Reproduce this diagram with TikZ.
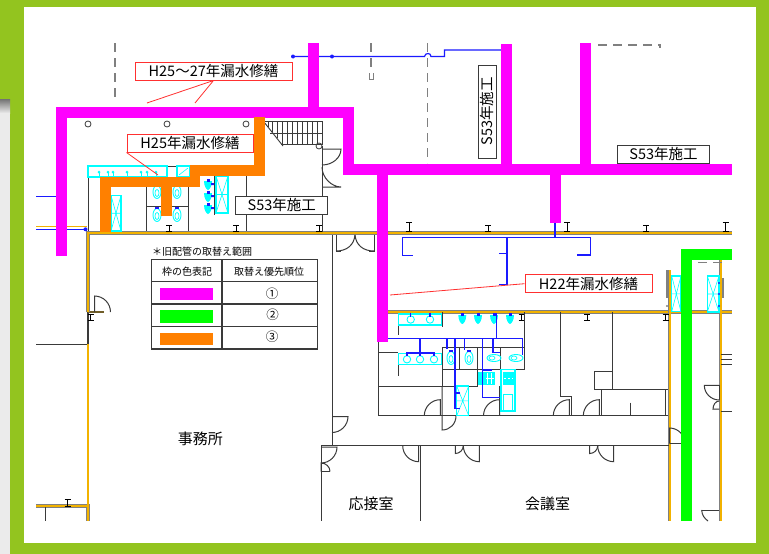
\documentclass[tikz,border=0pt]{standalone}
\usepackage{fontspec}
\setmainfont{Noto Sans CJK JP}
\usetikzlibrary{calc,shapes.geometric}
\definecolor{frameg}{HTML}{93C41F}
\definecolor{mag}{HTML}{FF00FF}
\definecolor{grn}{HTML}{00FF00}
\definecolor{org}{HTML}{FF8000}
\definecolor{wallo}{HTML}{F2B200}
\definecolor{wallc}{HTML}{3A3A3A}
\definecolor{cy}{HTML}{00FFFF}
\definecolor{bl}{HTML}{1A1AFF}
\definecolor{gdash}{HTML}{808080}
\definecolor{lab}{HTML}{FF3030}
\tikzset{
 wall/.style={draw=wallc,line width=1pt},
 wbase/.style={draw=gdash,line width=3.6pt},
 wcore/.style={draw=wallo,line width=2pt},
 pipe/.style={draw=bl,line width=1.4pt},
 fix/.style={draw=cy,line width=1.3pt},
 mband/.style={draw=mag,line width=11pt},
 gband/.style={draw=grn,line width=11pt},
 oband/.style={draw=org,line width=10.5pt},
 gd/.style={draw=gdash,line width=1.4pt,dash pattern=on 9pt off 6pt},
 redl/.style={draw=lab,line width=.8pt},
 rlabel/.style={draw=lab,line width=1pt,fill=white,inner sep=0pt,align=center,font=\fontsize{14.5}{15}\selectfont},
 blabel/.style={draw=wallc,line width=.9pt,fill=white,inner sep=0pt,align=center,font=\fontsize{14.5}{15}\selectfont},
 txt/.style={inner sep=0pt,font=\fontsize{10}{11}\selectfont},
 room/.style={inner sep=0pt,font=\fontsize{15}{16}\selectfont},
}
\newcommand\door[3]{\draw[wall] (#1) -- (#2) .. controls ($(#2)+.55*(#3)-.55*(#1)$) and ($(#3)+.55*(#2)-.55*(#1)$) .. (#3);}
\newcommand\ibeam[3]{\draw[draw=black,line width=.9pt] (#1-3,#2)--(#1+3,#2) (#1,#2)--(#1,#3) (#1-3,#3)--(#1+3,#3);}
\newcommand\xbox[4]{\draw[fix,fill=white] (#1,#2) rectangle (#3,#4); \draw[draw=cy,line width=.6pt] (#1,#2)--(#3,#4) (#3,#2)--(#1,#4) (#1,{(#2+#4)/2})--(#3,{(#2+#4)/2});}
\newcommand\urinal[2]{\fill[cy] (#1-4,#2-3) -- (#1+4,#2-3) .. controls (#1+4,#2+3) and (#1+1,#2+6) .. (#1,#2+6) .. controls (#1-1,#2+6) and (#1-4,#2+3) .. (#1-4,#2-3) -- cycle; \fill[bl] (#1-1.5,#2-5) rectangle (#1+1.5,#2-2);}
\newcommand\bowlv[2]{\draw[fix,line width=.9pt] (#1,#2) ellipse[x radius=4,y radius=6.5]; \draw[fix,line width=.7pt] (#1,#2+1) ellipse[x radius=2,y radius=3.5]; \fill[bl] (#1-2,#2-8) rectangle (#1+2,#2-6);}
\newcommand\bowlh[2]{\draw[fix,line width=.9pt] (#1,#2) ellipse[x radius=7,y radius=3.5]; \draw[fix,line width=.7pt] (#1-2,#2) ellipse[x radius=3,y radius=2];}
\newcommand\sinkc[2]{\draw[fix,line width=.9pt] (#1,#2) circle[radius=3.7]; \draw[draw=bl,line width=1.1pt] (#1,#2-7)--(#1,#2-3);}
\begin{document}
\begin{tikzpicture}[x=1pt,y=-1pt]
\useasboundingbox (0,0) rectangle (769,554);
% frame
\fill[frameg] (0,0) rectangle (769,554);
\fill[white!92!black] (0,99) rectangle (10,554);
\shade[top color=black!55,bottom color=white!92!black] (0,99) rectangle (10,113);
\fill[white] (24,7) rectangle (756,543);
% main walls
\draw[wbase] (36,506)--(88,506)--(88,521);
\draw[wcore] (36,505.5)--(88,505.5)--(88,521);
\draw[wall] (45,507)--(45,521);
\draw[wall] (36,344)--(88,344);
\draw[wall,line width=1.6pt] (88,344)--(88,312);
\draw[draw=wallc!70!wallo,line width=2.6pt] (88,312)--(104,312);
\draw[wbase] (88,312)--(88,233)--(732,233);
\draw[wcore] (88,312)--(88,233)--(732,233);
\draw[draw=wallo,line width=1.2pt] (88,344)--(88,506);
\draw[wbase] (388,312)--(732,312);
\draw[wcore] (388,312)--(732,312);
\draw[wbase] (669.5,270)--(669.5,521) (720.5,256)--(720.5,521);
\draw[wcore] (669.5,270)--(669.5,521) (720.5,256)--(720.5,521);
% pipes left and top
\draw[draw=bl,line width=1.2pt] (36,196.5)--(56,196.5);
\draw[draw=wallo,line width=1pt] (36,226)--(87,226);
\draw[draw=bl,line width=1.2pt] (36,229.3)--(86,229.3);
\fill[bl] (85.5,229.3) circle[radius=2];
\draw[draw=bl,line width=1.2pt] (293,56.5)--(424.5,56.5) .. controls (425,52.5) and (431,52.5) .. (431,56.5)--(444.5,56.5)--(444.5,50)--(502,50);
\fill[bl] (293,56.5) circle[radius=2] (332,56.5) circle[radius=2];
% dashed
\draw[gd] (115,43)--(115,101);
\draw[gd] (371,43)--(371,68);
\draw[draw=gdash,line width=.9pt] (369,73)--(369,79)--(373,79)--(373,73);
\draw[gd] (427.7,43)--(427.7,163);
\draw[gd] (598,45)--(660,45)--(660,48);
\draw[gd] (698,262.7)--(723,262.7);
% upper-left interior
\foreach \c in {88,167,246}{\draw[wall,line width=.8pt] (\c,124) circle[radius=3];}
\draw[wall,line width=.8pt] (319,146) circle[radius=3];
\draw[wall,line width=.9pt] (264,121)--(322,121)--(322,144)--(281,144);
\draw[wall,line width=.9pt] (264,122)--(283,146);
\draw[wall,line width=.8pt] (270,133)--(322,133);
\foreach \x/\y in {268/127,272/132,277/138,282/144,287/144,292/144,297/144,302/144,307/144,312/144,317/144}{\draw[wall,line width=.7pt] (\x,121)--(\x,\y);}
\draw[wall] (322,146)--(322,232);
\door{322,149}{341,149}{322,165}
\draw[wall] (322,187)--(341,187) .. controls (332,187) and (322,178) .. (322,167);
\draw[wall] (88,178)--(88,231);
\draw[wall] (146,187)--(146,231) (188,187)--(188,231) (146,206)--(188,206) (246,176)--(246,231);
\draw[wall] (167,166)--(190,166);
\draw[wall] (214,176)--(214,215);
% fixtures left
\draw[fix] (88,166) rectangle (167,177);
\foreach \x in {99,108,113,127,141,147,156}{\draw[draw=cy,line width=.9pt] (\x,172)--(\x,176); \fill[cy] (\x,172) circle[radius=1.5];}
\draw[fix] (177,166) rectangle (190,177);
\draw[draw=cy,line width=.6pt] (179,175)--(188,168);
\xbox{111}{195.5}{121}{231}
\xbox{216}{176}{228}{213}
\urinal{208}{184}\urinal{208}{196}\urinal{208}{208}
\fill[bl] (211,183) rectangle (214,185) (211,195) rectangle (214,197) (211,207) rectangle (214,209);
\bowlv{157}{192}\bowlv{177}{192}\bowlv{157}{215}\bowlv{177}{215}
\ibeam{169}{225}{231}\ibeam{236}{225}{231}\ibeam{319}{225}{231}
% upper beams
\ibeam{409}{222}{231}\ibeam{488}{225}{231}\ibeam{567.3}{222}{231}\ibeam{646}{225}{231}\ibeam{725.7}{222}{231}
\ibeam{521.7}{314}{320}\ibeam{587}{314}{320}\ibeam{665.7}{314}{320}
\ibeam{90.5}{314}{320}\ibeam{67.5}{499}{506}
% doors on wall 233
\draw[wall] (336,235)--(336,251)--(341,251);
\draw[wall] (374,235)--(374,251)--(369,251);
\draw[wall] (336,251) .. controls (347,251) and (354,245) .. (355,235);
\draw[wall] (374,251) .. controls (363,251) and (356,245) .. (355,235);
% small door
\door{94.5,312}{94.5,296}{110.5,312}
% long walls
\draw[wall] (332,235)--(332,445);
\door{332,416.5}{348,416.5}{332,432.5}
\draw[wall,line width=1pt] (321,445)--(669,445);
\draw[wall] (321,445)--(321,521) (420,445)--(420,521);
\door{321,447}{337,447}{321,463}
\door{321,471.5}{321,463}{330,471.5}
\draw[wall] (321,471.5)--(330,471.5);
\door{418.7,445.7}{418.7,461.7}{402.7,445.7}
\door{479.3,445.7}{479.3,461.7}{463.3,445.7}
\door{455.3,445.7}{455.3,453.5}{463.3,445.7}
\door{613.7,445.7}{613.7,461.7}{597.7,445.7}
\door{589.7,445.7}{589.7,453.5}{597.7,445.7}
% rest room area walls
\draw[wall] (378,342)--(378,415.7);
\draw[wall] (378,352)--(398,352) (378,386)--(477.7,386) (378,415.7)--(668,415.7);
\draw[wall] (398,364)--(398,376);
\draw[wall] (398,325)--(398,335);
\draw[wall] (442,312)--(442,327);
\draw[wall] (524.3,312)--(524.3,369);
\draw[wall] (442,347.7) rectangle (524.3,369);
\draw[wall] (459.7,347.7)--(459.7,369) (477.7,347.7)--(477.7,386) (500.7,347.7)--(500.7,369);
\draw[wall] (442,369)--(442,386);
\draw[wall] (442,386)--(442,430) .. controls (450,430) and (456,424) .. (456,415.7);
\door{440.3,415.7}{440.3,399.7}{424.3,415.7}
\draw[wall,line width=1.2pt] (499.5,386)--(499.5,415.7);
\door{499.5,415.7}{499.5,399.7}{483.5,415.7}
\door{569.3,415.7}{569.3,399.7}{553.3,415.7}
\door{599.3,415.7}{599.3,399.7}{583.3,415.7}
\draw[wall] (560.7,312)--(560.7,396)--(571.3,396)--(571.3,415.7);
\draw[wall] (612,312)--(612,389);
\draw[wall] (594.3,371.3) rectangle (612,389.3);
\draw[wall] (601,389)--(668,389) (601,389)--(601,415.7) (630,402.7)--(630,415.7);
\draw[wall,line width=1.2pt] (665.7,389)--(665.7,415.7);
% door right corridor
\door{669.5,443.7}{669.5,428}{685,443.7}
\draw[wall] (669.5,443.7)--(681,443.7);
% right side
\draw[wall] (721,354)--(732,354) (721,359)--(732,359) (721,364.7)--(732,364.7) (721,411)--(732,411);
\door{719.3,385.3}{704.3,385.3}{719.3,400}
\draw[wall] (719.3,385.3)--(719.3,400);
\door{719.3,409}{713,409}{719.3,401}
\draw[wall] (701.7,510)--(719,510);
\draw[wall] (701.7,510) .. controls (702,515) and (704,518) .. (708,521);
% right fixtures
\xbox{671.7}{276}{681}{311.7}
\xbox{707.3}{276}{719}{312}
\foreach \y in {283,294,306}{\fill[bl] (719,\y) circle[radius=1.2];\fill[gdash] (667,\y) circle[radius=1.2];}
\draw[draw=gdash,line width=1.3pt] (667,270)--(667,298) (723,278)--(723,298);
% restroom fixtures
\draw[fix] (398.3,314) rectangle (441.7,325);
\sinkc{410.7}{319.5}\sinkc{430}{319.5}
\draw[fix] (398.3,353.5) rectangle (441.7,364.3);
\sinkc{407}{359.3}\sinkc{420}{359.3}\sinkc{434}{359.3}
\urinal{462.3}{318}\urinal{478}{318}\urinal{494}{318}\urinal{510}{318}
\bowlv{451}{358}\bowlv{469}{358}
\bowlh{494}{358}\bowlh{516}{358}
\fill[cy] (478.3,371.7) rectangle (495,385);
\draw[draw=white,line width=.7pt] (487,373)--(487,384) (491,373)--(491,384) (486,378)--(494,378);
\draw[fix] (501,369.3) rectangle (515,411);
\fill[cy] (503,372) rectangle (514,385);
\draw[draw=white,line width=1pt,dash pattern=on 2pt off 2pt] (504,378.5)--(513,378.5);
\draw[fix,line width=.9pt] (503,394) rectangle (512,410);
\xbox{456.7}{386}{468.7}{415.7}
% restroom pipes
\draw[pipe] (388,338.7)--(522.7,338.7)--(522.7,355);
\draw[pipe] (496.7,313)--(496.7,338.7);
\draw[pipe] (420,338.7)--(420,353);
\draw[pipe] (406,353)--(434,353);
\draw[pipe] (447,338.7)--(447,349) (464.7,338.7)--(464.7,350);
\draw[pipe] (455,338.7)--(455,408.7)--(460,408.7);
\draw[pipe] (455,393)--(460,393);
\draw[pipe] (482.7,338.7)--(482.7,397.7)--(500,397.7);
\draw[pipe] (482.7,370)--(492,370);
\draw[pipe] (493,338.7)--(493,352.7)--(500,352.7);
% upper pipes
\draw[draw=bl,line width=1.2pt] (412.7,255.7)--(402.7,255.7)--(402.7,237.7)--(590.7,237.7)--(590.7,255)--(577.3,255);
\draw[draw=bl,line width=1.2pt] (507,237.7)--(507,284.3)--(499,284.3) (499,253.3)--(507,253.3);
\draw[draw=bl,line width=1.2pt] (555,223)--(555,238);
% bands
\draw[mband] (61.5,256)--(61.5,112.5)--(348.5,112.5)--(348.5,169)--(732,169);
\draw[mband] (313.5,43)--(313.5,108);
\draw[mband] (506.5,44)--(506.5,165);
\draw[mband] (585.5,43)--(585.5,165);
\draw[mband] (555.5,172)--(555.5,223);
\draw[mband] (382.5,172)--(382.5,342);
\draw[oband,line cap=butt] (259.5,117)--(259.5,170.5)--(195,170.5)--(195,182)--(105.5,182)--(105.5,232);
\draw[oband] (166.5,182)--(166.5,216);
\draw[gband] (686.5,521)--(686.5,254.5)--(732,254.5);
% labels
\node[rlabel,minimum width=157pt,minimum height=18pt] (h2527) at (213.5,71) {H25～27年漏水修繕};
\coordinate (l1) at (147,103);
\coordinate (l2) at (195,103);
\draw[redl] (h2527.south)--(l1) (h2527.south)--(l2);
\node[rlabel,minimum width=126pt,minimum height=18pt] (h25) at (190,143) {H25年漏水修繕};
\coordinate (l3) at (158,175);
\draw[redl] (h25.south west)--(l3);
\node[rlabel,minimum width=127pt,minimum height=18pt] (h22) at (588.5,283.7) {H22年漏水修繕};
\coordinate (l4) at (390,295);
\draw[redl] (h22.west)--(l4);
\node[blabel,minimum width=92pt,minimum height=18.7pt] (s1) at (281.8,205.3) {S53年施工};
\node[blabel,rotate=90,minimum width=93pt,minimum height=18.7pt] (s2) at (487.3,111.5) {S53年施工};
\node[blabel,minimum width=92.4pt,minimum height=18pt] (s3) at (663.5,154.3) {S53年施工};
% table
\node[txt,anchor=west] (tt) at (152,252) {＊旧配管の取替え範囲};
\draw[wall,line width=1.1pt] (151.7,259.7) rectangle (317.5,349);
\draw[wall,line width=1.1pt] (222,259.7)--(222,349) (151.7,281.7)--(317.5,281.7) (151.7,304)--(317.5,304) (151.7,326.3)--(317.5,326.3);
\fill[mag] (160,288) rectangle (213,300);
\fill[grn] (160,310.3) rectangle (213,322.7);
\fill[org] (160,333) rectangle (213,345);
\node[txt] (th1) at (187,272) {枠の色表記};
\node[txt] (th2) at (269,272) {取替え優先順位};
\node[txt,font=\fontsize{12.5}{13}\selectfont] (n1) at (272,293.7) {①};
\node[txt,font=\fontsize{12.5}{13}\selectfont] (n2) at (272.5,314.3) {②};
\node[txt,font=\fontsize{12.5}{13}\selectfont] (n3) at (272,336.5) {③};
% rooms
\node[room] (r1) at (200.3,439) {事務所};
\node[room] (r2) at (371,504) {応接室};
\node[room] (r3) at (547.5,504) {会議室};
\end{tikzpicture}
\end{document}
